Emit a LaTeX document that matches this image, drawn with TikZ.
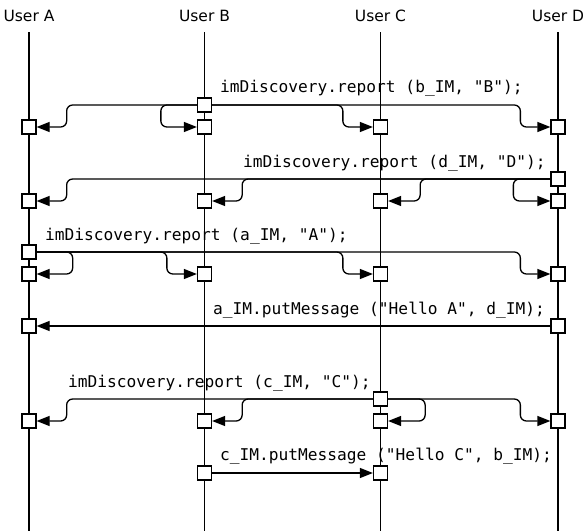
\documentclass[tikz,border=0pt]{standalone}
\usepackage{fontspec}
\setmainfont{DejaVu Sans}
\setmonofont{DejaVu Sans Mono}
\usetikzlibrary{arrows.meta}

\begin{document}
\begin{tikzpicture}[x=1pt,y=-1pt,
  lifeline/.style={line width=1.3pt},
  slot/.style={draw, fill=white, line width=1.3pt, minimum size=14pt, inner sep=0pt},
  msg/.style={line width=1.3pt, rounded corners=6pt, -{Triangle[length=13pt,width=10pt]}},
  call/.style={font=\ttfamily\fontsize{16.2}{18}\selectfont, anchor=base west, inner sep=0pt},
  actor/.style={font=\fontsize{15.5}{18}\selectfont, anchor=base, inner sep=0pt}]
\useasboundingbox (0,0) rectangle (586,531);

% actors and lifelines
\node[actor] (ua) at (29,21) {User A};
\node[actor] (ub) at (204.5,21) {User B};
\node[actor] (uc) at (380.5,21) {User C};
\node[actor] (ud) at (558,21) {User D};
\foreach \n/\x in {a/29,b/204.5,c/380.5,d/558}{
  \coordinate (top\n) at (\x,32);
  \coordinate (end\n) at (\x,531);
  \draw[lifeline] (top\n) -- (end\n);
}

% row 1: B reports to everybody
\node[slot] (r1s) at (204.5,105) {};
\node[slot] (r1a) at (29,127) {};
\node[slot] (r1b) at (204.5,127) {};
\node[slot] (r1c) at (380.5,127) {};
\node[slot] (r1d) at (558,127) {};
\node[call] (t1) at (220,92) {imDiscovery.report (b\_IM, "B");};
\draw[msg] (r1s.west) -| ([xshift=30pt]r1a.east) -- (r1a.east);
\draw[msg] (r1s.west) -| ([xshift=-36pt]r1b.west) -- (r1b.west);
\draw[msg] (r1s.east) -| ([xshift=-30pt]r1c.west) -- (r1c.west);
\draw[msg] (r1s.east) -| ([xshift=-30pt]r1d.west) -- (r1d.west);

% row 2: D reports to everybody
\node[slot] (r2s) at (558,179) {};
\node[slot] (r2a) at (29,201) {};
\node[slot] (r2b) at (204.5,201) {};
\node[slot] (r2c) at (380.5,201) {};
\node[slot] (r2d) at (558,201) {};
\node[call] (t2) at (243,167) {imDiscovery.report (d\_IM, "D");};
\draw[msg] (r2s.west) -| ([xshift=30pt]r2a.east) -- (r2a.east);
\draw[msg] (r2s.west) -| ([xshift=30pt]r2b.east) -- (r2b.east);
\draw[msg] (r2s.west) -| ([xshift=32pt]r2c.east) -- (r2c.east);
\draw[msg] (r2s.west) -| ([xshift=-37pt]r2d.west) -- (r2d.west);

% row 3: A reports to everybody
\node[slot] (r3s) at (29,252) {};
\node[slot] (r3a) at (29,274) {};
\node[slot] (r3b) at (204.5,274) {};
\node[slot] (r3c) at (380.5,274) {};
\node[slot] (r3d) at (558,274) {};
\node[call] (t3) at (45,240) {imDiscovery.report (a\_IM, "A");};
\draw[msg] (r3s.east) -| ([xshift=36pt]r3a.east) -- (r3a.east);
\draw[msg] (r3s.east) -| ([xshift=-30pt]r3b.west) -- (r3b.west);
\draw[msg] (r3s.east) -| ([xshift=-30pt]r3c.west) -- (r3c.west);
\draw[msg] (r3s.east) -| ([xshift=-30pt]r3d.west) -- (r3d.west);

% row 4: D sends a message to A
\node[slot] (r4s) at (558,326) {};
\node[slot] (r4a) at (29,326) {};
\node[call] (t4) at (213,314) {a\_IM.putMessage ("Hello A", d\_IM);};
\draw[msg] (r4s.west) -- (r4a.east);

% row 5: C reports to everybody
\node[slot] (r5s) at (380.5,399) {};
\node[slot] (r5a) at (29,421) {};
\node[slot] (r5b) at (204.5,421) {};
\node[slot] (r5c) at (380.5,421) {};
\node[slot] (r5d) at (558,421) {};
\node[call] (t5) at (68,387) {imDiscovery.report (c\_IM, "C");};
\draw[msg] (r5s.west) -| ([xshift=30pt]r5a.east) -- (r5a.east);
\draw[msg] (r5s.west) -| ([xshift=30pt]r5b.east) -- (r5b.east);
\draw[msg] (r5s.east) -| ([xshift=37pt]r5c.east) -- (r5c.east);
\draw[msg] (r5s.east) -| ([xshift=-30pt]r5d.west) -- (r5d.west);

% row 6: B sends a message to C
\node[slot] (r6s) at (204.5,473) {};
\node[slot] (r6c) at (380.5,473) {};
\node[call] (t6) at (220,460) {c\_IM.putMessage ("Hello C", b\_IM);};
\draw[msg] (r6s.east) -- (r6c.west);
\end{tikzpicture}
\end{document}
